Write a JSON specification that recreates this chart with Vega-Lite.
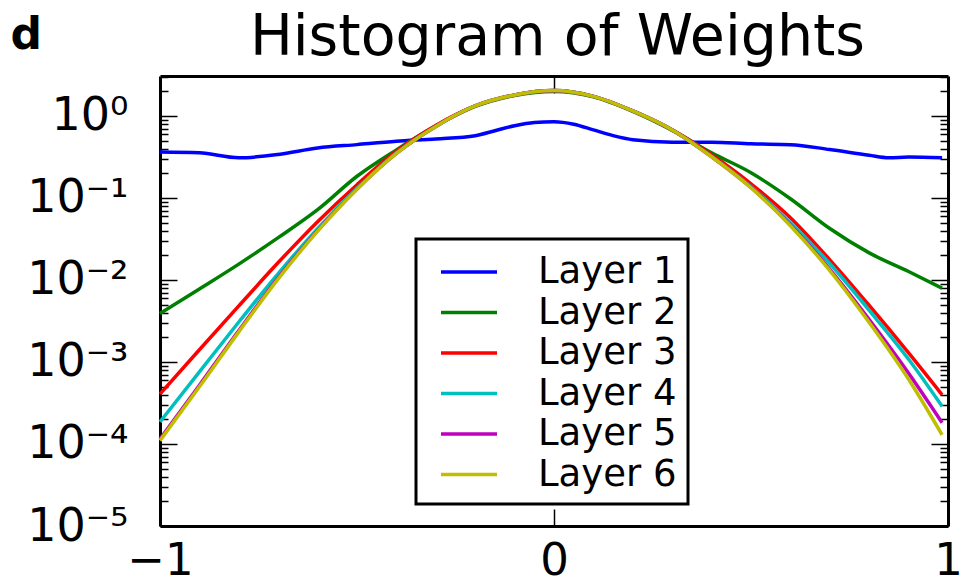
{
 "$schema": "https://vega.github.io/schema/vega-lite/v6.json",
 "width": 788, "height": 450,
 "autosize": {"type": "none"},
 "padding": {"left": 160, "top": 76, "right": 15, "bottom": 59},
 "background": "white",
 "config": {
   "font": "DejaVu Sans",
   "view": {"stroke": null},
   "axis": {"domainColor": "black", "domainWidth": 3, "tickColor": "black", "tickWidth": 1.5, "labelColor": "black", "labelFont": "DejaVu Sans", "grid": false, "zindex": 1}
 },
 "data": {"values": [
  {"layer":"Layer 1","x":-1.0,"v":0.363},{"layer":"Layer 1","x":-0.9,"v":0.355},{"layer":"Layer 1","x":-0.8,"v":0.309},{"layer":"Layer 1","x":-0.7,"v":0.339},{"layer":"Layer 1","x":-0.6,"v":0.407},{"layer":"Layer 1","x":-0.5,"v":0.447},{"layer":"Layer 1","x":-0.4,"v":0.490},{"layer":"Layer 1","x":-0.3,"v":0.525},{"layer":"Layer 1","x":-0.2,"v":0.575},{"layer":"Layer 1","x":-0.15,"v":0.661},{"layer":"Layer 1","x":-0.1,"v":0.759},{"layer":"Layer 1","x":-0.05,"v":0.832},{"layer":"Layer 1","x":0.0,"v":0.851},{"layer":"Layer 1","x":0.05,"v":0.794},{"layer":"Layer 1","x":0.1,"v":0.676},{"layer":"Layer 1","x":0.15,"v":0.575},{"layer":"Layer 1","x":0.2,"v":0.513},{"layer":"Layer 1","x":0.3,"v":0.479},{"layer":"Layer 1","x":0.4,"v":0.479},{"layer":"Layer 1","x":0.5,"v":0.457},{"layer":"Layer 1","x":0.6,"v":0.447},{"layer":"Layer 1","x":0.7,"v":0.389},{"layer":"Layer 1","x":0.8,"v":0.331},{"layer":"Layer 1","x":0.85,"v":0.309},{"layer":"Layer 1","x":0.9,"v":0.316},{"layer":"Layer 1","x":0.985,"v":0.309},
  {"layer":"Layer 2","x":-1.0,"v":0.00389},{"layer":"Layer 2","x":-0.9,"v":0.00776},{"layer":"Layer 2","x":-0.8,"v":0.0156},{"layer":"Layer 2","x":-0.7,"v":0.0328},{"layer":"Layer 2","x":-0.6,"v":0.0719},{"layer":"Layer 2","x":-0.5,"v":0.184},{"layer":"Layer 2","x":-0.4,"v":0.386},{"layer":"Layer 2","x":-0.3,"v":0.757},{"layer":"Layer 2","x":-0.2,"v":1.306},{"layer":"Layer 2","x":-0.1,"v":1.778},{"layer":"Layer 2","x":0.0,"v":1.986},{"layer":"Layer 2","x":0.1,"v":1.706},{"layer":"Layer 2","x":0.2,"v":1.135},{"layer":"Layer 2","x":0.3,"v":0.667},{"layer":"Layer 2","x":0.4,"v":0.355},{"layer":"Layer 2","x":0.5,"v":0.203},{"layer":"Layer 2","x":0.6,"v":0.0979},{"layer":"Layer 2","x":0.7,"v":0.0424},{"layer":"Layer 2","x":0.8,"v":0.0214},{"layer":"Layer 2","x":0.9,"v":0.01267},{"layer":"Layer 2","x":0.985,"v":0.00794},
  {"layer":"Layer 3","x":-1.0,"v":0.000407},{"layer":"Layer 3","x":-0.9,"v":0.00141},{"layer":"Layer 3","x":-0.8,"v":0.00483},{"layer":"Layer 3","x":-0.7,"v":0.0163},{"layer":"Layer 3","x":-0.6,"v":0.0514},{"layer":"Layer 3","x":-0.5,"v":0.145},{"layer":"Layer 3","x":-0.4,"v":0.371},{"layer":"Layer 3","x":-0.3,"v":0.767},{"layer":"Layer 3","x":-0.2,"v":1.324},{"layer":"Layer 3","x":-0.1,"v":1.803},{"layer":"Layer 3","x":0.0,"v":2.042},{"layer":"Layer 3","x":0.1,"v":1.734},{"layer":"Layer 3","x":0.2,"v":1.151},{"layer":"Layer 3","x":0.3,"v":0.676},{"layer":"Layer 3","x":0.4,"v":0.336},{"layer":"Layer 3","x":0.5,"v":0.149},{"layer":"Layer 3","x":0.6,"v":0.0575},{"layer":"Layer 3","x":0.7,"v":0.0176},{"layer":"Layer 3","x":0.8,"v":0.00489},{"layer":"Layer 3","x":0.9,"v":0.00129},{"layer":"Layer 3","x":0.985,"v":0.000398},
  {"layer":"Layer 4","x":-1.0,"v":0.000186},{"layer":"Layer 4","x":-0.9,"v":0.000757},{"layer":"Layer 4","x":-0.8,"v":0.00307},{"layer":"Layer 4","x":-0.7,"v":0.01197},{"layer":"Layer 4","x":-0.6,"v":0.0423},{"layer":"Layer 4","x":-0.5,"v":0.131},{"layer":"Layer 4","x":-0.4,"v":0.355},{"layer":"Layer 4","x":-0.3,"v":0.746},{"layer":"Layer 4","x":-0.2,"v":1.324},{"layer":"Layer 4","x":-0.1,"v":1.803},{"layer":"Layer 4","x":0.0,"v":2.042},{"layer":"Layer 4","x":0.1,"v":1.734},{"layer":"Layer 4","x":0.2,"v":1.151},{"layer":"Layer 4","x":0.3,"v":0.676},{"layer":"Layer 4","x":0.4,"v":0.322},{"layer":"Layer 4","x":0.5,"v":0.137},{"layer":"Layer 4","x":0.6,"v":0.0500},{"layer":"Layer 4","x":0.7,"v":0.0158},{"layer":"Layer 4","x":0.8,"v":0.00425},{"layer":"Layer 4","x":0.9,"v":0.00108},{"layer":"Layer 4","x":0.985,"v":0.000288},
  {"layer":"Layer 5","x":-1.0,"v":0.000115},{"layer":"Layer 5","x":-0.9,"v":0.000520},{"layer":"Layer 5","x":-0.8,"v":0.00242},{"layer":"Layer 5","x":-0.7,"v":0.0106},{"layer":"Layer 5","x":-0.6,"v":0.0400},{"layer":"Layer 5","x":-0.5,"v":0.129},{"layer":"Layer 5","x":-0.4,"v":0.350},{"layer":"Layer 5","x":-0.3,"v":0.746},{"layer":"Layer 5","x":-0.2,"v":1.324},{"layer":"Layer 5","x":-0.1,"v":1.803},{"layer":"Layer 5","x":0.0,"v":2.042},{"layer":"Layer 5","x":0.1,"v":1.734},{"layer":"Layer 5","x":0.2,"v":1.151},{"layer":"Layer 5","x":0.3,"v":0.676},{"layer":"Layer 5","x":0.4,"v":0.318},{"layer":"Layer 5","x":0.5,"v":0.134},{"layer":"Layer 5","x":0.6,"v":0.0468},{"layer":"Layer 5","x":0.7,"v":0.0135},{"layer":"Layer 5","x":0.8,"v":0.00330},{"layer":"Layer 5","x":0.9,"v":0.000730},{"layer":"Layer 5","x":0.985,"v":0.000182},
  {"layer":"Layer 6","x":-1.0,"v":0.000110},{"layer":"Layer 6","x":-0.9,"v":0.000498},{"layer":"Layer 6","x":-0.8,"v":0.00233},{"layer":"Layer 6","x":-0.7,"v":0.0103},{"layer":"Layer 6","x":-0.6,"v":0.0394},{"layer":"Layer 6","x":-0.5,"v":0.128},{"layer":"Layer 6","x":-0.4,"v":0.350},{"layer":"Layer 6","x":-0.3,"v":0.746},{"layer":"Layer 6","x":-0.2,"v":1.324},{"layer":"Layer 6","x":-0.1,"v":1.803},{"layer":"Layer 6","x":0.0,"v":2.042},{"layer":"Layer 6","x":0.1,"v":1.734},{"layer":"Layer 6","x":0.2,"v":1.151},{"layer":"Layer 6","x":0.3,"v":0.676},{"layer":"Layer 6","x":0.4,"v":0.318},{"layer":"Layer 6","x":0.5,"v":0.133},{"layer":"Layer 6","x":0.6,"v":0.0459},{"layer":"Layer 6","x":0.7,"v":0.0130},{"layer":"Layer 6","x":0.8,"v":0.00303},{"layer":"Layer 6","x":0.9,"v":0.000615},{"layer":"Layer 6","x":0.985,"v":0.000129}
 ]},
 "layer": [
  {
   "mark": {"type": "line", "strokeWidth": 3.5, "interpolate": "monotone"},
   "encoding": {
     "x": {"field": "x", "type": "quantitative", "scale": {"domain": [-1, 1], "nice": false, "zero": false},
           "axis": {"orient": "bottom", "values": [-1, -0.0001, 1], "labelExpr": "datum.value < -0.5 ? '−1' : (datum.value > 0.5 ? '1' : '0')", "tickSize": -17, "labelFontSize": 45, "labelPadding": 29.5, "title": null, "labelFlush": false, "labelOverlap": false, "labelBound": false}},
     "y": {"field": "v", "type": "quantitative", "scale": {"type": "log", "domain": [0.00001, 3.07], "nice": false},
           "axis": {"orient": "left",
             "values": [0.00001,0.00002,0.00003,0.00004,0.00005,0.00006,0.00007,0.00008,0.00009,0.0001,0.0002,0.0003,0.0004,0.0005,0.0006,0.0007,0.0008,0.0009,0.001,0.002,0.003,0.004,0.005,0.006,0.007,0.008,0.009,0.01,0.02,0.03,0.04,0.05,0.06,0.07,0.08,0.09,0.1,0.2,0.3,0.4,0.5,0.6,0.7,0.8,0.9,1,2,3],
             "tickSize": {"condition": {"test": "abs(log(datum.value)/LN10 - round(log(datum.value)/LN10)) < 0.001", "value": -17}, "value": -8},
             "labelExpr": "abs(log(datum.value)/LN10 - round(log(datum.value)/LN10)) < 0.001 ? '10' + (round(log(datum.value)/LN10) < 0 ? '⁻' : '') + ['⁰','¹','²','³','⁴','⁵'][abs(round(log(datum.value)/LN10))] : ''",
             "labelFontSize": 46, "labelPadding": 49, "labelFlush": false, "labelOverlap": false,
             "title": "d", "titleAngle": 0, "titleX": -150, "titleY": -28, "titleAlign": "left", "titleBaseline": "alphabetic", "titleFontSize": 44, "titleFontWeight": "bold", "titleFont": "DejaVu Sans", "titleColor": "black"}},
     "color": {"field": "layer", "type": "nominal",
       "scale": {"domain": ["Layer 1","Layer 2","Layer 3","Layer 4","Layer 5","Layer 6"], "range": ["#0000ff","#008000","#ff0000","#00bfbf","#bf00bf","#bfbf00"]},
       "legend": {"orient": "none", "legendX": 256, "legendY": 163, "title": null, "fillColor": "white", "strokeColor": "black", "padding": 11, "symbolType": "M-1.4,0H1.4", "symbolSize": 1600, "symbolStrokeWidth": 3.5, "symbolOffset": 20, "labelFontSize": 37, "labelFont": "DejaVu Sans", "labelColor": "black", "labelOffset": 47, "rowPadding": 0.5,
         "encode": {"legend": {"update": {"strokeWidth": {"value": 3}}}}}}
   }
  },
  {
   "data": {"values": []},
   "mark": "point",
   "encoding": {
     "x": {"field": "x", "type": "quantitative",
           "axis": {"orient": "top", "values": [0], "tickSize": -17, "labels": false,
             "title": "Histogram of Weights", "titleX": 397, "titleY": -22, "titleAlign": "center", "titleBaseline": "alphabetic", "titleFontSize": 57, "titleFontWeight": "normal", "titleFont": "DejaVu Sans", "titleColor": "black"}},
     "y": {"field": "v", "type": "quantitative",
           "axis": {"orient": "right", "labels": false, "title": null,
             "values": [0.00001,0.00002,0.00003,0.00004,0.00005,0.00006,0.00007,0.00008,0.00009,0.0001,0.0002,0.0003,0.0004,0.0005,0.0006,0.0007,0.0008,0.0009,0.001,0.002,0.003,0.004,0.005,0.006,0.007,0.008,0.009,0.01,0.02,0.03,0.04,0.05,0.06,0.07,0.08,0.09,0.1,0.2,0.3,0.4,0.5,0.6,0.7,0.8,0.9,1,2,3],
             "tickSize": {"condition": {"test": "abs(log(datum.value)/LN10 - round(log(datum.value)/LN10)) < 0.001", "value": -17}, "value": -8}}}
   }
  }
 ],
 "resolve": {"axis": {"x": "independent", "y": "independent"}}
}
